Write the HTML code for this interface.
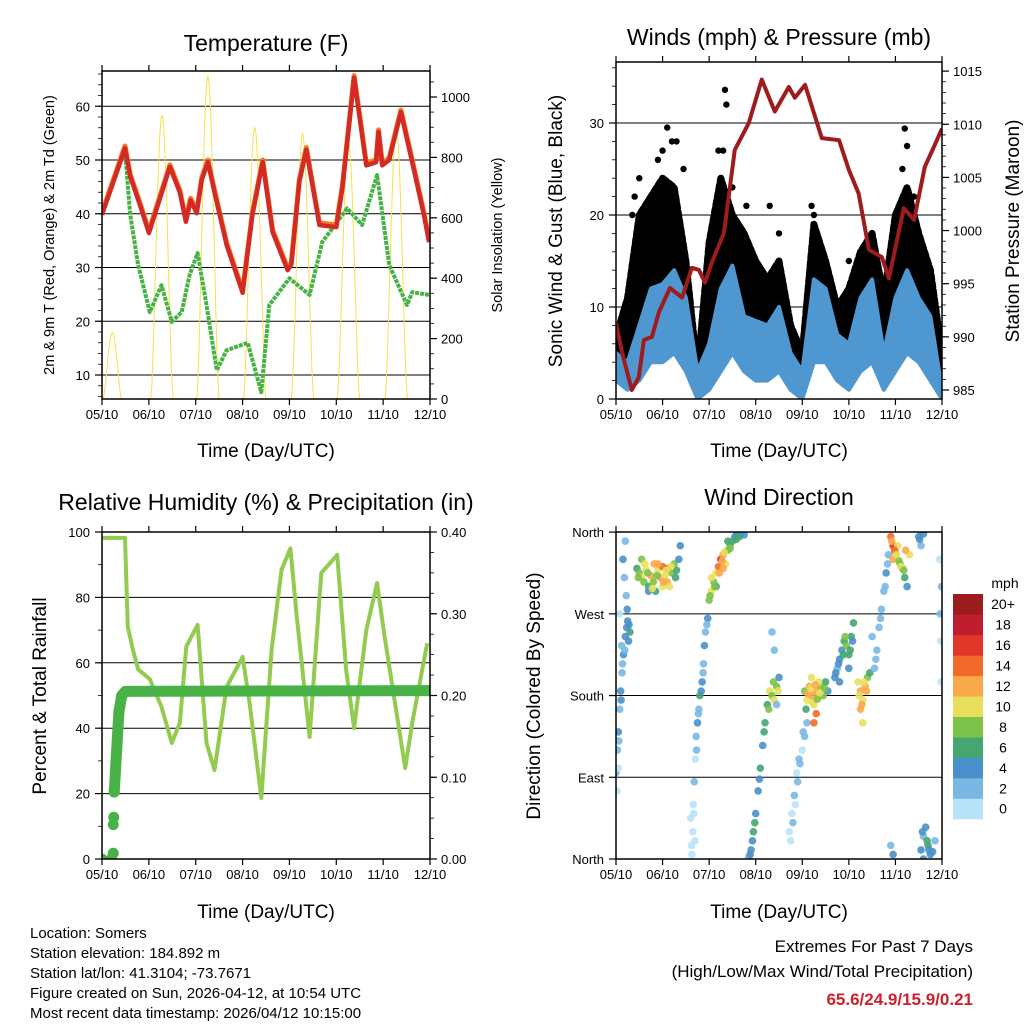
<!DOCTYPE html>
<html><head><meta charset="utf-8"><title>Weather Station Summary</title>
<style>
html,body{margin:0;padding:0;background:#fff;}
svg{display:block;font-family:"Liberation Sans",Arial,sans-serif;}
.ft{font-size:15px;fill:#000;}
</style></head>
<body>
<svg id="chart" width="1024" height="1024" viewBox="0 0 1024 1024" xmlns="http://www.w3.org/2000/svg">
<rect x="0" y="0" width="1024" height="1024" fill="#fff"/>
<text x="266" y="51" font-size="23" text-anchor="middle">Temperature (F)</text>
<text x="779" y="45" font-size="23" text-anchor="middle">Winds (mph) &amp; Pressure (mb)</text>
<text x="266" y="510" font-size="23" text-anchor="middle">Relative Humidity (%) &amp; Precipitation (in)</text>
<text x="779" y="505" font-size="23" text-anchor="middle">Wind Direction</text>

<text x="266" y="457" font-size="19" text-anchor="middle">Time (Day/UTC)</text>
<text x="779" y="457" font-size="19" text-anchor="middle">Time (Day/UTC)</text>
<text x="266" y="918" font-size="19" text-anchor="middle">Time (Day/UTC)</text>
<text x="779" y="918" font-size="19" text-anchor="middle">Time (Day/UTC)</text>

<text transform="translate(54,235) rotate(-90)" font-size="14.5" text-anchor="middle">2m &amp; 9m T (Red, Orange) &amp; 2m Td (Green)</text>
<text transform="translate(502,235) rotate(-90)" font-size="14.5" text-anchor="middle">Solar Insolation (Yellow)</text>
<text transform="translate(562,231) rotate(-90)" font-size="19" text-anchor="middle">Sonic Wind &amp; Gust (Blue, Black)</text>
<text transform="translate(1019,231) rotate(-90)" font-size="19" text-anchor="middle">Station Pressure (Maroon)</text>
<text transform="translate(46,696) rotate(-90)" font-size="19" text-anchor="middle">Percent &amp; Total Rainfall</text>
<text transform="translate(540,696) rotate(-90)" font-size="19" text-anchor="middle">Direction (Colored By Speed)</text>

<g>
<text class="ft" x="30" y="938">Location: Somers</text>
<text class="ft" x="30" y="958">Station elevation: 184.892 m</text>
<text class="ft" x="30" y="978">Station lat/lon: 41.3104; -73.7671</text>
<text class="ft" x="30" y="998">Figure created on Sun, 2026-04-12, at 10:54 UTC</text>
<text class="ft" x="30" y="1018">Most recent data timestamp: 2026/04/12 10:15:00</text>
</g>
<g>
<text x="973" y="952" font-size="17" text-anchor="end">Extremes For Past 7 Days</text>
<text x="973" y="977" font-size="17" text-anchor="end">(High/Low/Max Wind/Total Precipitation)</text>
<text x="973" y="1005" font-size="17" font-weight="bold" fill="#d0202a" text-anchor="end">65.6/24.9/15.9/0.21</text>
</g>
<g id="marks"></g>
</svg>
<script>
// ---------- Temperature panel data ----------
const tempT = [0,0.49,0.6,0.81,1.0,1.19,1.45,1.66,1.79,1.89,2.02,2.13,2.26,2.4,2.66,3.0,3.21,3.43,3.64,3.96,4.04,4.21,4.36,4.64,5.0,5.13,5.38,5.64,5.85,5.9,5.98,6.13,6.38,6.62,6.87,6.98];
const tempV = [39.8,52.2,47,41.6,36.4,41.6,48.7,44,38.5,42.5,40.1,46.3,49.6,44,34.2,25.3,39.8,49.6,36.6,29.5,30.5,45.9,51.9,37.9,37.5,44.8,65.3,49,49.6,55.2,49,50,58.9,49.6,39.8,34.7];
const dewT = [0,0.49,0.6,0.77,1.02,1.27,1.49,1.7,1.87,2.04,2.23,2.45,2.66,3.11,3.4,3.57,4.0,4.43,4.7,5.23,5.55,5.87,6.13,6.51,6.62,6.98];
const dewV = [39.8,51.9,40,30.5,21.7,26.7,19.9,21.7,28.6,32.7,23,10.9,14.6,16,6.8,23,28,24.9,34.7,41,37.9,47.2,30.5,23,25.4,24.9];
const solarDay = [0.22,1.28,2.26,3.26,4.28,5.26,6.28];
const solarPeak = [220,940,1070,900,880,850,897];
// ---------- Wind panel data ----------
const windT = [0,0.25,0.5,0.75,1,1.25,1.5,1.75,2,2.25,2.5,2.75,3,3.25,3.5,3.75,4,4.25,4.5,4.75,5,5.25,5.5,5.75,6,6.25,6.5,6.75,7];
const windHi = [5,4,8,12,12.5,14,11,3,6,12,14.5,9,8.5,8,10,5,3,13,12,7,6,11,13,5,11,14,11,9,1];
const windLo = [2,1,2,4,4,5,3,0,1,3,5,3,2,2,3,1,0,4,4,2,1,3,4,1,3,5,4,2,0];
const gustHi = [6.7,11,20,22,24,23,15,3,17,24,20,18,15,13,15,8,5,19,15,10,12,16,18,11,20,23,18,14,5];
const gustLo = [4,3,6,9,10,11,8,1,4,10,11,8,7,7,8,4,2,10,9,6,5,9,10,3,9,11,9,7,1];
const gustPeakT = [0.35,0.4,0.5,0.9,1.0,1.1,1.2,1.3,1.45,2.2,2.3,2.34,2.37,2.5,2.8,3.3,3.5,4.2,4.25,5.0,5.5,6.15,6.2,6.25,6.4];
const gustPeakV = [20,22,24,26,27,29.5,28,28,25,27,27,33.6,32,23,21,21,18,21,20,15,17,25,29.4,27.5,22];
const presT = [0,0.13,0.34,0.49,0.6,0.77,0.92,1.16,1.42,1.63,1.78,1.91,2.06,2.32,2.55,2.85,3.13,3.41,3.71,3.84,4.06,4.42,4.79,5.0,5.21,5.43,5.71,5.86,6.18,6.4,6.63,6.82,7.0];
const presV = [991.3,988.5,985,986.2,989.7,990,992.3,994.6,993.7,996.5,996.3,995.1,997,999.8,1007.6,1010.1,1014.2,1011.2,1013.5,1012.5,1013.7,1008.7,1008.5,1005.7,1003.5,998.2,997.5,995.5,1002.1,1001,1006,1007.8,1009.6];
// ---------- RH panel data ----------
const rhT = [0,0.49,0.55,0.66,0.77,1.02,1.27,1.49,1.66,1.8,2.04,2.23,2.4,2.66,3.0,3.15,3.4,3.62,3.83,4.02,4.15,4.43,4.68,5.02,5.21,5.38,5.64,5.87,6.02,6.47,6.62,6.94];
const rhV = [98.2,98.2,71,64,58,55,46.5,35.5,41.6,65,71.6,35.5,27.2,52.6,61.8,47.7,18.7,64,88.4,95,75,37.3,87.5,93,58,40,70,84.4,69,27.8,41.6,66];
const rainT = [0,0.2,0.24,0.24,0.25,0.26,0.28,0.32,0.36,0.42,0.5,7];
const rainV = [0,0,0.007,0.042,0.051,0.082,0.1,0.14,0.18,0.2,0.205,0.206];
// ---------- Wind direction data ----------
const dirT = [0.0,0.03,0.05,0.08,0.1,0.13,0.16,0.2,0.25,0.3,0.22,0.18,0.15,0.2,0.05,0.12,0.08,0.27,0.24,0.02,0.06,0.11,0.14,0.19,0.23,0.28,
0.45,0.5,0.55,0.6,0.65,0.7,0.75,0.8,0.85,0.9,0.95,1.0,1.05,1.1,1.15,1.2,1.25,1.3,1.35,1.38,0.55,0.7,1.0,0.9,1.1,0.48,0.62,0.78,0.88,1.02,1.08,1.18,1.28,0.68,0.82,
1.63,1.65,1.66,1.68,1.7,1.72,1.75,1.78,1.8,1.85,1.88,1.9,1.92,1.97,1.6,1.7,1.62,1.67,1.73,1.77,1.83,1.87,1.95,
2.0,2.05,2.1,2.15,2.2,2.25,2.3,2.35,2.4,2.45,2.5,2.55,2.6,2.7,2.05,2.15,2.3,2.4,2.65,2.02,2.12,2.22,2.28,2.33,2.45,2.58,2.75,
2.85,2.9,2.95,3.0,3.05,3.1,3.15,3.2,3.25,3.3,3.35,3.4,3.45,3.5,3.45,3.4,3.35,2.88,2.93,2.98,3.08,3.18,3.28,3.38,3.48,
3.75,3.8,3.85,3.9,3.95,4.0,4.05,4.1,3.72,3.78,3.83,3.88,3.93,4.02,
4.05,4.1,4.15,4.2,4.25,4.3,4.35,4.3,4.4,4.45,4.5,4.55,4.2,4.25,4.35,4.12,4.18,4.22,4.28,4.32,4.38,4.08,4.48,
4.7,4.75,4.8,4.85,4.9,4.95,5.0,5.05,5.1,4.8,5.0,4.72,4.78,4.88,4.92,5.03,5.08,
5.2,5.25,5.3,5.35,5.25,5.4,5.3,5.45,5.22,5.28,5.33,5.38,
5.55,5.6,5.65,5.7,5.75,5.8,5.85,5.5,5.58,5.68,5.78,5.83,
5.9,5.95,6.0,6.05,6.1,6.15,6.2,6.25,6.3,5.95,6.05,5.92,5.98,6.02,6.08,6.12,6.18,6.22,
6.5,6.55,6.6,6.52,
5.9,5.95,6.55,6.6,6.65,6.7,6.75,6.6,6.85,6.58,6.68,6.72,6.8,
6.95,6.96,6.97,6.98,6.99];
const dirD = [95,120,140,165,185,205,225,245,262,250,290,310,330,350,100,235,270,240,275,75,130,175,215,230,255,258,
320,315,310,305,318,300,312,305,295,318,310,322,312,305,300,315,325,318,330,345,330,295,300,325,320,310,325,298,312,305,318,322,310,315,325,
5,30,60,85,110,135,150,165,180,195,215,235,250,265,45,20,15,50,120,160,185,205,258,
285,295,305,315,322,330,335,325,340,345,350,355,358,360,310,300,320,350,355,290,300,315,328,338,342,352,357,
2,10,30,50,75,100,125,150,170,185,180,175,190,200,170,230,250,5,20,40,88,140,165,195,185,
20,40,60,85,105,120,135,150,30,50,70,95,110,140,
185,175,190,180,170,185,178,160,190,180,195,185,200,150,195,182,188,172,192,176,183,165,188,
200,210,220,230,240,235,225,245,260,195,210,205,215,225,245,230,240,
195,185,175,190,165,200,150,205,180,170,195,185,
210,230,255,275,295,315,335,245,220,265,300,325,
355,345,338,330,325,320,310,300,335,330,345,350,340,335,328,322,318,340,
355,345,358,352,
15,5,10,25,35,15,5,0,20,30,20,10,8,
330,270,240,195,300];
const dirS = [3,2,4,3,4,3,4,5,5,6,3,2,4,2,1,2,1,5,4,1,3,4,2,3,5,4,
7,9,11,8,10,7,12,9,6,10,12,14,11,13,10,9,8,6,5,4,8,5,10,12,15,8,11,10,9,12,10,11,7,9,12,
1,1,0,2,1,3,4,3,6,4,3,4,3,4,0,1,1,0,2,3,5,3,3,
8,10,9,11,14,16,12,10,9,8,7,5,4,3,10,7,13,6,7,9,8,12,12,11,9,6,4,
3,5,6,4,5,6,5,7,6,10,8,10,9,4,3,3,3,4,5,7,4,6,8,9,11,
1,2,1,2,2,1,2,3,1,1,2,1,2,2,
8,10,12,13,11,12,10,14,9,8,6,4,10,15,11,12,10,11,13,9,10,7,8,
4,3,5,4,6,8,7,7,6,4,5,4,5,6,8,7,5,
10,12,11,13,12,9,11,6,10,12,11,12,
2,3,2,3,2,4,3,2,2,3,2,3,
14,16,12,10,9,8,6,5,10,12,10,13,15,11,9,10,8,12,
4,3,5,4,
3,4,4,3,5,6,4,5,3,4,6,4,5,
1,2,1,1,2];
const speedColors = ["#b8e3f8","#7ab8e4","#4a90c8","#45a672","#7dc24a","#e8e05c","#f9a94a","#f26a2b","#e0372a","#be1e2d","#9b1b1e"];
const speedLabels = ["0","2","4","6","8","10","12","14","16","18","20+"];
const dayLabels = ["05/10","06/10","07/10","08/10","09/10","10/10","11/10","12/10"];
const tempTicks = [10,20,30,40,50,60];
const solarTicks = [0,200,400,600,800,1000];
const windTicks = [0,10,20,30];
const presTicks = [985,990,995,1000,1005,1010,1015];
const rhTicks = [0,20,40,60,80,100];
const rainTicks = [0,0.1,0.2,0.3,0.4];
const dirTicks = [0,90,180,270,360];
const dirLabels = ["North","East","South","West","North"];

const NS = "http://www.w3.org/2000/svg";
const root = document.getElementById("marks");
function el(tag, attrs, parent) {
  const e = document.createElementNS(NS, tag);
  for (const k in attrs) e.setAttribute(k, attrs[k]);
  (parent || root).appendChild(e);
  return e;
}
const P1 = {x0:102, x1:430, y0:71, y1:399};
const P2 = {x0:616, x1:942, y0:62, y1:399};
const P3 = {x0:102, x1:430, y0:532, y1:859};
const P4 = {x0:616, x1:942, y0:532, y1:859};
function xs(p, d) { return p.x0 + d / 7 * (p.x1 - p.x0); }
const yTemp = v => 375 - (v - 10) * 5.375;
const ySolar = s => 399 - s * 0.302;
const yWind = v => 399 - v * 9.2;
const yPres = v => 390 - (v - 985) * 10.63;
const yRh = v => 859 - v * 3.27;
const yRain = v => 859 - v / 0.4 * 327;
const yDir = v => 859 - v * 0.908;

function clip(p, id) {
  const cp = el("clipPath", {id: id});
  el("rect", {x: p.x0, y: p.y0, width: p.x1 - p.x0, height: p.y1 - p.y0}, cp);
}
clip(P1, "c1"); clip(P2, "c2"); clip(P3, "c3"); clip(P4, "c4");

function xAxis(p, name) {
  dayLabels.forEach((lab, i) => {
    const x = xs(p, i);
    const t1 = el("line", {x1: x, x2: x, y1: p.y1, y2: p.y1 + 6, stroke: "#000", "stroke-width": 1.2});
    
    
    el("line", {x1: x, x2: x, y1: p.y0, y2: p.y0 - 6, stroke: "#000", "stroke-width": 1.2});
    const t = el("text", {x: x, y: p.y1 + 20, "font-size": 13, "text-anchor": "middle"});
    t.textContent = lab;
    
    
  });
}
function leftAxis(p, ticks, yf, fmt, grid, minorStep, lo, hi, name, labels) {
  if (minorStep) {
    for (let v = lo; v <= hi + 1e-9; v += minorStep) {
      const y = yf(v);
      if (y < p.y0 - 0.5 || y > p.y1 + 0.5) continue;
      el("line", {x1: p.x0 - 4, x2: p.x0, y1: y, y2: y, stroke: "#000", "stroke-width": 0.8});
    }
  }
  ticks.forEach((v, i) => {
    const y = yf(v);
    if (grid && y > p.y0 + 1 && y < p.y1 - 1) {
      const g = el("line", {x1: p.x0, x2: p.x1, y1: y, y2: y, stroke: "#000", "stroke-width": 1});
      
      
    }
    el("line", {x1: p.x0 - 7, x2: p.x0, y1: y, y2: y, stroke: "#000", "stroke-width": 1.2});
    const t = el("text", {x: p.x0 - 12, y: y + 5, "font-size": 13, "text-anchor": "end"});
    t.textContent = labels ? labels[i] : fmt(v);
    
    
  });
}
function rightAxis(p, ticks, yf, fmt, minorStep, lo, hi, name) {
  if (minorStep) {
    for (let v = lo; v <= hi + 1e-9; v += minorStep) {
      const y = yf(v);
      if (y < p.y0 - 0.5 || y > p.y1 + 0.5) continue;
      el("line", {x1: p.x1, x2: p.x1 + 4, y1: y, y2: y, stroke: "#000", "stroke-width": 0.8});
    }
  }
  ticks.forEach(v => {
    const y = yf(v);
    el("line", {x1: p.x1, x2: p.x1 + 7, y1: y, y2: y, stroke: "#000", "stroke-width": 1.2});
    const t = el("text", {x: p.x1 + 11, y: y + 5, "font-size": 13, "text-anchor": "start"});
    t.textContent = fmt(v);
    
    
  });
}
function frame(p, name) {
  const r = el("rect", {x: p.x0, y: p.y0, width: p.x1 - p.x0, height: p.y1 - p.y0, fill: "none", stroke: "#000", "stroke-width": 1.5});
  
  
}
function pts(p, T, V, yf) { return T.map((t, i) => xs(p, t).toFixed(1) + "," + yf(V[i]).toFixed(1)).join(" "); }

// ===== Panel 1: Temperature =====
leftAxis(P1, tempTicks, yTemp, v => String(v), true, 2, 6, 66, "temp");
rightAxis(P1, solarTicks, ySolar, v => String(v), 50, 0, 1050, "solar");
xAxis(P1, "temp");
const g1 = el("g", {"clip-path": "url(#c1)"});
solarDay.forEach((d, i) => {
  const hw = i === 0 ? 0.2 : 0.24;
  let s = "";
  for (let k = 0; k <= 24; k++) {
    const f = k / 24;
    const v = solarPeak[i] * Math.pow(Math.sin(Math.PI * f), 1.6);
    s += xs(P1, d - hw + 2 * hw * f).toFixed(1) + "," + ySolar(v).toFixed(1) + " ";
  }
  const sl = el("polyline", {points: s, fill: "none", stroke: "#f8e04a", "stroke-width": 1}, g1);
  
  
});
const dl = el("polyline", {points: pts(P1, dewT, dewV, yTemp), fill: "none", stroke: "#48b246", "stroke-width": 4, "stroke-dasharray": "4 1", "stroke-linejoin": "round"}, g1);


const ol = el("polyline", {points: pts(P1, tempT, tempV.map(v => v + 0.4), yTemp), fill: "none", stroke: "#f47b20", "stroke-width": 5, "stroke-linejoin": "round"}, g1);


const rl = el("polyline", {points: pts(P1, tempT, tempV, yTemp), fill: "none", stroke: "#d42a26", "stroke-width": 4.5, "stroke-linejoin": "round"}, g1);


frame(P1, "temp");

// ===== Panel 2: Winds & Pressure =====
leftAxis(P2, windTicks, yWind, v => String(v), true, 2, 0, 36, "wind");
rightAxis(P2, presTicks, yPres, v => String(v), 1, 985, 1016, "pressure");
xAxis(P2, "wind");
const g2 = el("g", {"clip-path": "url(#c2)"});
function band(p, T, lo, hi, yf) {
  const a = T.map((t, i) => xs(p, t).toFixed(1) + "," + yf(hi[i]).toFixed(1));
  const b = T.map((t, i) => xs(p, t).toFixed(1) + "," + yf(lo[i]).toFixed(1)).reverse();
  return a.concat(b).join(" ");
}
const gb = el("polygon", {points: band(P2, windT, gustLo, gustHi, yWind), fill: "#000", stroke: "#000", "stroke-width": 7, "stroke-linejoin": "round", "stroke-dasharray": "5 3", "stroke-linecap": "round"}, g2);


gustPeakT.forEach((t, i) => {
  const c = el("circle", {cx: xs(P2, t), cy: yWind(gustPeakV[i]), r: 3.2, fill: "#000"}, g2);
  
  
});
const wb = el("polygon", {points: band(P2, windT, windLo, windHi, yWind), fill: "#4f97d0", stroke: "#4f97d0", "stroke-width": 4, "stroke-linejoin": "round"}, g2);


const pl = el("polyline", {points: pts(P2, presT, presV, yPres), fill: "none", stroke: "#9e1b1e", "stroke-width": 4, "stroke-linejoin": "round"}, g2);


frame(P2, "wind");

// ===== Panel 3: RH & Precip =====
leftAxis(P3, rhTicks, yRh, v => String(v), true, 10, 0, 100, "rh");
rightAxis(P3, rainTicks, yRain, v => v.toFixed(2), 0.025, 0, 0.4, "rain");
xAxis(P3, "rh");
const g3 = el("g", {"clip-path": "url(#c3)"});
const rh = el("polyline", {points: pts(P3, rhT, rhV, yRh), fill: "none", stroke: "#92cb4f", "stroke-width": 4, "stroke-linejoin": "round"}, g3);


const rainLine = el("polyline", {points: pts(P3, rainT.slice(5), rainV.slice(5), yRain), fill: "none", stroke: "#48b246", "stroke-width": 11, "stroke-linejoin": "round", "stroke-linecap": "round"}, g3);


rainT.forEach((t, i) => {
  const c = el("circle", {cx: xs(P3, t), cy: yRain(rainV[i]), r: 5.5, fill: "#48b246"}, g3);
  
  
});
frame(P3, "rh");

// ===== Panel 4: Wind direction =====
leftAxis(P4, dirTicks, yDir, null, true, 0, 0, 0, "dir", dirLabels);
xAxis(P4, "dir");
const g4 = el("g", {"clip-path": "url(#c4)"});
dirT.forEach((t, i) => {
  const bin = Math.min(10, Math.floor(dirS[i] / 2));
  const c = el("circle", {cx: xs(P4, t), cy: yDir(dirD[i]), r: 3.8, fill: speedColors[bin], "fill-opacity": 0.9}, g4);
  
  
});
frame(P4, "dir");

// colorbar
const cbTop = 594, cbH = 20.45;
speedColors.forEach((col, i) => {
  const k = 10 - i;
  const y = cbTop + k * cbH;
  const r = el("rect", {x: 953, y: y, width: 30, height: cbH + 0.3, fill: col});
  
  
  const t = el("text", {x: 1003, y: y + cbH / 2 + 5, "font-size": 14, "text-anchor": "middle"});
  t.textContent = speedLabels[i];
  
  
});
const mph = el("text", {x: 1005, y: 588, "font-size": 14, "text-anchor": "middle"});
mph.textContent = "mph";


</script>
</body></html>
